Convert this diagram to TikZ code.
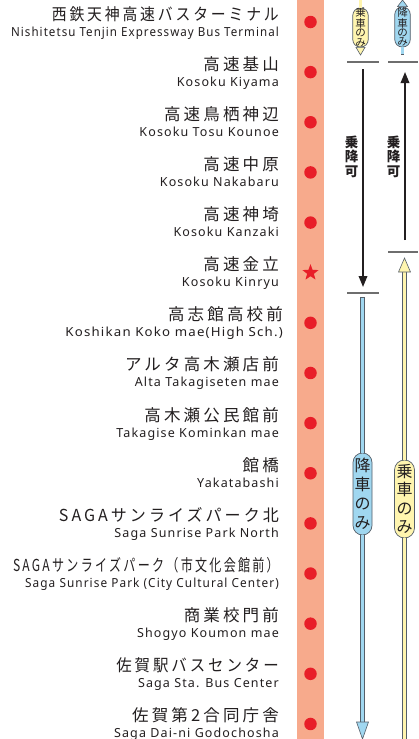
\documentclass[tikz,border=0pt]{standalone}
\usepackage{fontspec}
\usepackage{graphicx}
\setmainfont{Noto Sans}
\newfontfamily\jp{Noto Sans CJK JP}[LetterSpace=19]
\newfontfamily\jpp{Noto Sans CJK JP}
\newfontfamily\enfont{Noto Sans}[LetterSpace=9]
\usetikzlibrary{shapes.geometric,arrows.meta}
\definecolor{strip}{RGB}{247,170,140}
\definecolor{dotred}{RGB}{232,30,40}
\definecolor{txt}{RGB}{35,31,32}
\definecolor{bluef}{RGB}{160,215,240}
\definecolor{yellf}{RGB}{255,245,175}
\definecolor{outl}{RGB}{85,95,105}
\definecolor{tick}{RGB}{110,110,110}
\tikzset{
 capsule/.style={draw=outl, line width=0.7pt, inner sep=0pt, align=center, text=txt},
 head/.style={draw=outl, line width=0.6pt, line join=miter},
 tickline/.style={draw=tick, line width=1.1pt},
 blackarrow/.style={line width=1.8pt, draw=txt, -{Triangle[length=11pt,width=8.5pt]}},
 station/.style={circle, fill=dotred, minimum size=12.5pt, inner sep=0pt},
 jname/.style={anchor=base east, inner sep=0pt, text=txt, font=\jp\fontsize{16.5}{18}\selectfont},
 ename/.style={anchor=base east, inner sep=0pt, text=txt, font=\enfont\fontsize{12.5}{14}\selectfont},
 vlabel/.style={align=center, inner sep=0pt, text=txt, font=\jpp\bfseries\fontsize{13.5}{14.5}\selectfont}
}
\begin{document}
\begin{tikzpicture}[x=1pt,y=-1pt]
\useasboundingbox (0,0) rectangle (418,739);
\fill[white] (0,0) rectangle (418,739);
\fill[strip] (297,0) rectangle (324,739);
% stations
\foreach \i/\xr/\sj/\jn/\se/\enm in {
 0/279/0.90/{西鉄天神高速バスターミナル}/0.925/{Nishitetsu Tenjin Expressway Bus Terminal},
 1/279/1/{高速基山}/1/{Kosoku Kiyama},
 2/279/1/{高速鳥栖神辺}/1/{Kosoku Tosu Kounoe},
 3/279/1/{高速中原}/1/{Kosoku Nakabaru},
 4/279/1/{高速神埼}/1/{Kosoku Kanzaki},
 5/279/1/{高速金立}/1/{Kosoku Kinryu},
 6/283/1/{高志館高校前}/1.06/{Koshikan Koko mae(High Sch.)},
 7/279/1/{アルタ高木瀬店前}/1/{Alta Takagiseten mae},
 8/279/1/{高木瀬公民館前}/1/{Takagise Kominkan mae},
 9/279/1/{館橋}/1/{Yakatabashi},
 10/279/0.97/{SAGAサンライズパーク北}/1/{Saga Sunrise Park North},
 11/279/0.73/{SAGAサンライズパーク（市文化会館前）}/0.945/{Saga Sunrise Park (City Cultural Center)},
 12/279/1/{商業校門前}/1/{Shogyo Koumon mae},
 13/279/0.936/{佐賀駅バスセンター}/1/{Saga Sta. Bus Center},
 14/279/1/{佐賀第2合同庁舎}/1/{Saga Dai-ni Godochosha}}{
 \pgfmathsetmacro{\yy}{22+50.14*\i}
 \node[jname] (j\i) at (\xr,\yy-2) {\scalebox{\sj}[1]{\jn}};
 \node[ename] (e\i) at (\xr,\yy+14) {\scalebox{\se}[1]{\enm}};
 \ifnum\i=5
  \node[star, star points=5, star point ratio=2.4, fill=dotred, minimum size=17pt, inner sep=0pt] (s\i) at (310.5,\yy) {};
 \else
  \node[station] (s\i) at (310.5,\yy) {};
 \fi
}
% ticks
\coordinate (tA1) at (347,62); \coordinate (tA2) at (379,62);
\coordinate (tB1) at (388,62); \coordinate (tB2) at (418,62);
\coordinate (tA3) at (347,293); \coordinate (tA4) at (379,293);
\coordinate (tB3) at (388,252); \coordinate (tB4) at (418,252);
\draw[tickline] (tA1) -- (tA2);
\draw[tickline] (tB1) -- (tB2);
\draw[tickline] (tA3) -- (tA4);
\draw[tickline] (tB3) -- (tB4);
% top legend, column A (yellow, down)
\coordinate (yT0) at (360.5,0);
\coordinate (yTh) at (360.5,55);
\node[capsule, fill=yellf, minimum width=15.5pt, minimum height=39pt, rounded corners=7.5pt, font=\jpp\fontsize{10.5}{9.4}\selectfont] (ycapT) at (360.5,27.5) {乗\\車\\の\\み};
\draw[line width=3.6pt, outl] (yT0) -- (ycapT.north);
\draw[line width=2.4pt, yellf] (yT0) -- (ycapT.north);
\draw[head, fill=yellf] (ycapT.south) ++(-4.5,0) -- ++(9,0) -- (yTh) -- cycle;
% top legend, column B (blue, up)
\coordinate (bTt) at (402.5,0);
\coordinate (bT1) at (402.5,55);
\node[capsule, fill=bluef, minimum width=15.5pt, minimum height=40pt, rounded corners=7.5pt, font=\jpp\fontsize{10.5}{9.4}\selectfont] (bcapT) at (402.5,27) {降\\車\\の\\み};
\draw[line width=3.6pt, outl] (bcapT.south) -- (bT1);
\draw[line width=2.4pt, bluef, shorten >=0.6pt] (bcapT.south) -- (bT1);
\draw[head, fill=bluef] (bcapT.north) ++(-5,0) -- ++(10,0) -- (bTt) -- cycle;
% black arrows
\coordinate (kA0) at (363,69); \coordinate (kA1) at (363,287);
\coordinate (kB0) at (405,240); \coordinate (kB1) at (405,72);
\draw[blackarrow] (kA0) -- (kA1);
\draw[blackarrow] (kB0) -- (kB1);
\node[vlabel] (lA) at (351.5,156.5) {乗\\降\\可};
\node[vlabel] (lB) at (393.5,156.5) {乗\\降\\可};
% lower column A (blue, down)
\coordinate (bA0) at (362.5,297);
\coordinate (bAh) at (362.5,722);
\coordinate (bAt) at (362.5,739);
\node[capsule, fill=bluef, minimum width=19pt, minimum height=82pt, rounded corners=9.5pt, font=\jpp\fontsize{16}{19}\selectfont] (bcapA) at (362.5,494) {降\\車\\の\\み};
\draw[line width=4.2pt, outl] (bA0) -- (bcapA.north);
\draw[line width=2.8pt, bluef, shorten <=0.7pt] (bA0) -- (bcapA.north);
\draw[line width=4.2pt, outl] (bcapA.south) -- (bAh);
\draw[line width=2.8pt, bluef] (bcapA.south) -- (bAh);
\draw[head, fill=bluef] (bAh) ++(-6,0) -- ++(12,0) -- (bAt) -- cycle;
% lower column B (yellow, up)
\coordinate (yBt) at (404.5,258);
\coordinate (yBh) at (404.5,272);
\coordinate (yBe) at (404.5,739);
\node[capsule, fill=yellf, minimum width=20pt, minimum height=78pt, rounded corners=10pt, font=\jpp\fontsize{16}{18.5}\selectfont] (ycapB) at (404.5,499) {乗\\車\\の\\み};
\draw[line width=4.2pt, outl] (yBh) -- (ycapB.north);
\draw[line width=2.8pt, yellf] (yBh) -- (ycapB.north);
\draw[line width=4.2pt, outl] (ycapB.south) -- (yBe);
\draw[line width=2.8pt, yellf] (ycapB.south) -- (yBe);
\draw[head, fill=yellf] (yBh) ++(-6,0) -- ++(12,0) -- (yBt) -- cycle;
\end{tikzpicture}
\end{document}
